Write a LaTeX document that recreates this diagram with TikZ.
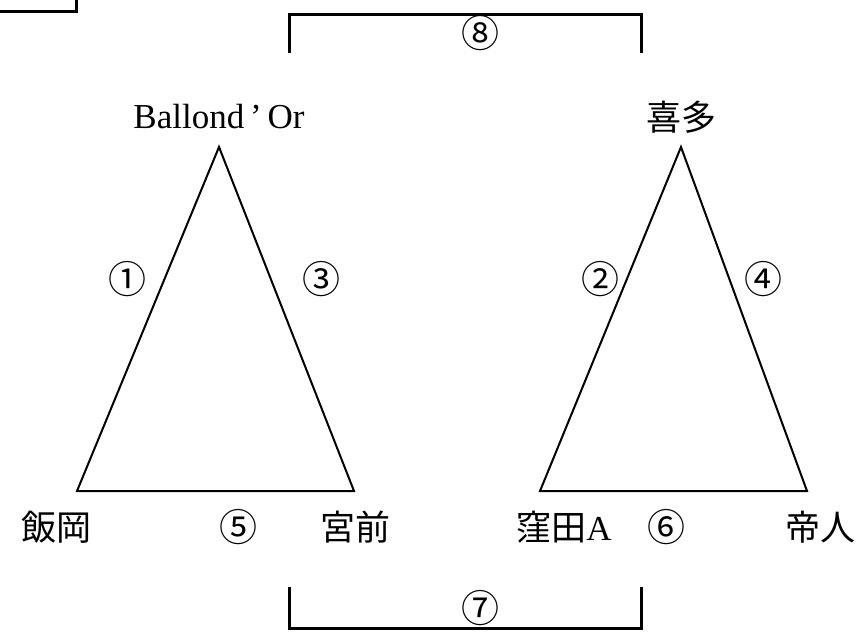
\documentclass[tikz,border=0pt]{standalone}
\usepackage{fontspec}
\setmainfont{Liberation Serif}
\newfontfamily\jp{Noto Sans CJK JP}
\begin{document}
\begin{tikzpicture}[x={(1pt,0)},y={(0,-1pt)},
  tri/.style={line width=2pt,line join=miter},
  brk/.style={line width=3pt},
  lbl/.style={inner sep=0pt,font=\fontsize{35}{40}\selectfont},
  num/.style={inner sep=0pt,font=\jp\fontsize{38}{42}\selectfont}]
\useasboundingbox (0,0) rectangle (863,641);
% partial box top-left
\coordinate (b1) at (0,11);
\coordinate (b2) at (76,11);
\coordinate (b3) at (76,0);
\draw[brk] (b1) -- (b2) -- (b3);
% left triangle
\coordinate (LA) at (219,147);
\coordinate (LL) at (77,491);
\coordinate (LR) at (354,491);
\draw[tri] (LA) -- (LL) -- (LR) -- cycle;
% right triangle
\coordinate (RA) at (681,147);
\coordinate (RL) at (540,491);
\coordinate (RR) at (807,491);
\draw[tri] (RA) -- (RL) -- (RR) -- cycle;
% brackets
\coordinate (t1) at (289,53);
\coordinate (t2) at (289,14);
\coordinate (t3) at (641,14);
\coordinate (t4) at (641,53);
\draw[brk] (t1) -- (t2) -- (t3) -- (t4);
\coordinate (u1) at (289,587);
\coordinate (u2) at (289,628);
\coordinate (u3) at (641,628);
\coordinate (u4) at (641,587);
\draw[brk] (u1) -- (u2) -- (u3) -- (u4);
% labels
\node[lbl] (ballon) at (219,117) {Ballond\,’\,Or};
\node[lbl] (kita) at (681,117) {\jp 喜多};
\node[lbl] (iioka) at (56,527) {\jp 飯岡};
\node[lbl] (miyamae) at (355,527) {\jp 宮前};
\node[lbl] (kubota) at (564,527) {{\jp 窪田}A};
\node[lbl] (teijin) at (820,527) {\jp 帝人};
\node[num] (n1) at (127,279) {①};
\node[num] (n3) at (321,279) {③};
\node[num] (n2) at (600,279) {②};
\node[num] (n4) at (763,279) {④};
\node[num] (n5) at (238,527) {⑤};
\node[num] (n6) at (666,527) {⑥};
\node[num] (n8) at (480,33) {⑧};
\node[num] (n7) at (480,608) {⑦};
\end{tikzpicture}
\end{document}
